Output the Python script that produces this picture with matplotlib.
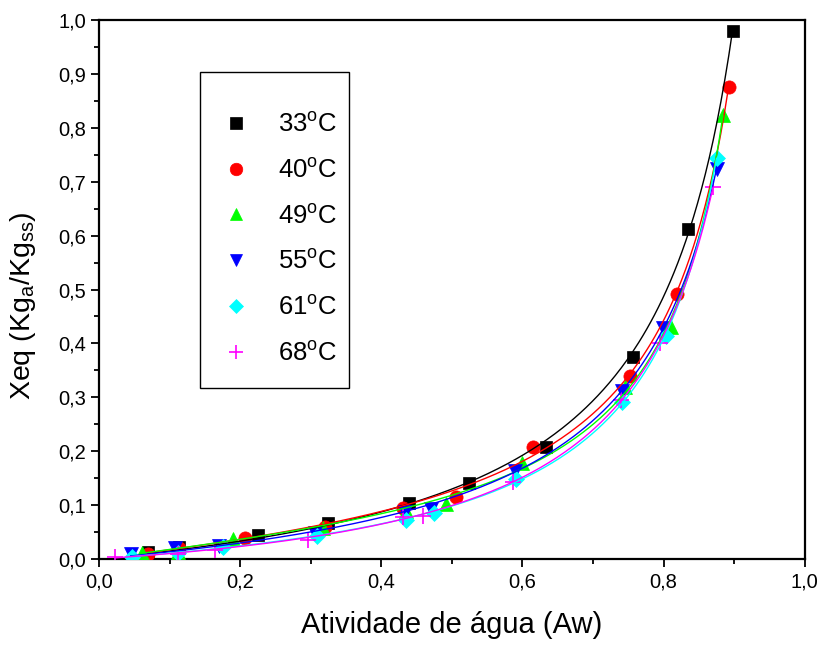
import numpy as np
import matplotlib.pyplot as plt
from matplotlib.patches import Rectangle
from matplotlib.ticker import MultipleLocator, FuncFormatter

plt.rcParams['font.family'] = ['Liberation Sans', 'DejaVu Sans']
plt.rcParams['mathtext.fontset'] = 'custom'
plt.rcParams['mathtext.rm'] = 'Liberation Sans'

# leituras do grafico: atividade de agua e umidade de equilibrio
aw_33 = [0.069, 0.113, 0.225, 0.325, 0.439, 0.525, 0.633, 0.756, 0.834, 0.898]
x_33 = [0.013, 0.022, 0.045, 0.066, 0.104, 0.141, 0.208, 0.375, 0.612, 0.980]
aw_40 = [0.069, 0.113, 0.207, 0.320, 0.431, 0.506, 0.615, 0.752, 0.819, 0.892]
x_40 = [0.009, 0.020, 0.039, 0.060, 0.095, 0.115, 0.208, 0.340, 0.492, 0.876]
aw_49 = [0.061, 0.112, 0.190, 0.317, 0.435, 0.491, 0.599, 0.745, 0.810, 0.884]
x_49 = [0.011, 0.013, 0.037, 0.058, 0.090, 0.102, 0.178, 0.320, 0.430, 0.824]
aw_55 = [0.045, 0.108, 0.170, 0.306, 0.433, 0.470, 0.589, 0.741, 0.799, 0.875]
x_55 = [0.010, 0.020, 0.025, 0.048, 0.087, 0.092, 0.163, 0.312, 0.428, 0.723]
aw_61 = [0.047, 0.112, 0.176, 0.309, 0.435, 0.475, 0.591, 0.741, 0.803, 0.875]
x_61 = [0.004, 0.011, 0.023, 0.042, 0.072, 0.085, 0.148, 0.291, 0.414, 0.744]
aw_68 = [0.023, 0.112, 0.164, 0.296, 0.431, 0.459, 0.586, 0.739, 0.795, 0.870]
x_68 = [0.003, 0.010, 0.017, 0.036, 0.078, 0.080, 0.143, 0.295, 0.400, 0.690]

labels = ['33', '40', '49', '55', '61', '68']
series = [(aw_33, x_33), (aw_40, x_40), (aw_49, x_49),
          (aw_55, x_55), (aw_61, x_61), (aw_68, x_68)]
colors = ['black', '#ff0000', '#00ff00', '#0000ff', '#00ffff', '#ff00ff']
markers = ['s', 'o', '^', 'v', 'D', '+']
sizes = [8.5, 9.5, 9.5, 9.5, 8, 11]

fig = plt.figure(figsize=(8.22, 6.45), dpi=100)
ax = fig.add_axes([0.1204, 0.1333, 0.8586, 0.8357])

handles = []
for (aw, xe), lab, c, m, s in zip(series, labels, colors, markers, sizes):
    aw = np.array(aw)
    xe = np.array(xe)
    h, = ax.plot(aw, xe, linestyle='none', marker=m, color=c, markersize=s,
                 markeredgewidth=1.2 if m == '+' else 0.5, zorder=3,
                 label=lab + r'$^\mathregular{o}$C')
    handles.append(h)
    # ajuste GAB linearizado: aw/X = a*aw^2 + b*aw + c
    coef = np.polyfit(aw, aw / xe, 2, w=xe ** 2 / aw)
    aa = np.linspace(aw.min(), aw.max(), 300)
    ax.plot(aa, aa / np.polyval(coef, aa), color=c, linewidth=1.0, zorder=4)

ax.set_xlim(0, 1.0)
ax.set_ylim(0, 1.0)
ax.xaxis.set_major_locator(MultipleLocator(0.2))
ax.xaxis.set_minor_locator(MultipleLocator(0.1))
ax.yaxis.set_major_locator(MultipleLocator(0.1))
ax.yaxis.set_minor_locator(MultipleLocator(0.05))
fmt = FuncFormatter(lambda v, p: ('%.1f' % v).replace('.', ','))
ax.xaxis.set_major_formatter(fmt)
ax.yaxis.set_major_formatter(fmt)
ax.tick_params(which='both', direction='out', labelsize=14.5, width=1.3)
ax.tick_params(which='major', length=6)
ax.tick_params(which='minor', length=3.5)
for sp in ax.spines.values():
    sp.set_linewidth(1.6)

ax.set_xlabel('Atividade de água (Aw)', fontsize=21, labelpad=14)
ax.set_ylabel(r'Xeq (Kg$_\mathregular{a}$/Kg$_\mathregular{ss}$)', fontsize=20.5)
ax.yaxis.set_label_coords(-0.086, 0.47)

# caixa da legenda
ax.add_patch(Rectangle((0.1431, 0.3173), 0.211, 0.5862, transform=ax.transAxes,
                       fill=False, edgecolor='black', linewidth=1.0, zorder=5))
ax.legend(handles=handles, loc='upper left', bbox_to_anchor=(0.1757, 0.829),
          fontsize=18.5, frameon=False, labelspacing=0.82, handletextpad=1.14,
          borderpad=0, handlelength=1.0, borderaxespad=0, numpoints=1,
          markerscale=0.95)

fig.savefig('out.png', dpi=100)
